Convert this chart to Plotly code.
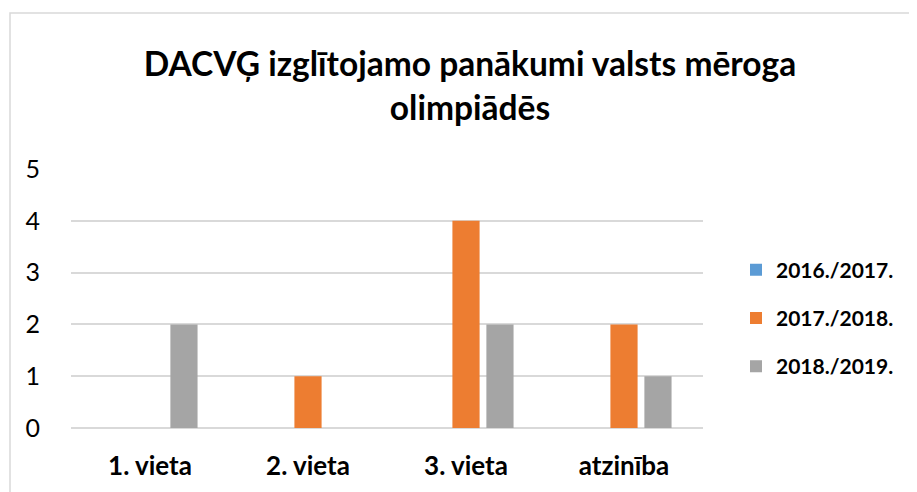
import plotly.graph_objects as go

categories = ["1. vieta", "2. vieta", "3. vieta", "atzinība"]
series_names = ["2016./2017.", "2017./2018.", "2018./2019."]
values_2016 = [0, 0, 0, 0]
values_2017 = [0, 1, 4, 2]
values_2018 = [2, 0, 2, 1]
colors = ["#5B9BD5", "#ED7D31", "#A5A5A5"]
y_ticks = [0, 1, 2, 3, 4, 5]

FONT = "Lato"
OFF = 8  # page body margin
W, H = 917 - OFF, 492 - OFF
# plot area in page pixels: x 71..703, y 169..428
PL, PR, PT, PB = 71, 703, 169, 428
L, R, T, B = PL - OFF, W - (PR - OFF), PT - OFF, H - (PB - OFF)
pw, ph = W - L - R, H - T - B

def px_x(p):
    return (p - OFF - L) / pw

def px_y(p):
    return (H - B - (p - OFF)) / ph

fig = go.Figure()
for name, vals, col in zip(series_names, [values_2016, values_2017, values_2018], colors):
    fig.add_trace(go.Bar(x=categories, y=vals, name="<b>" + name + "</b>",
                         marker=dict(color=col, line=dict(width=0)), legendgroup=name))

fig.update_layout(
    width=W, height=H,
    margin=dict(l=L, r=R, t=T, b=B, autoexpand=False),
    paper_bgcolor="white", plot_bgcolor="white",
    barmode="group", bargap=0.355, bargroupgap=0.2,
    font=dict(family=FONT, color="#000000"),
    title=dict(text="<b>DACVĢ izglītojamo panākumi valsts mēroga<br>olimpiādēs</b>",
               x=(470 - OFF) / W, xanchor="center", xref="container",
               y=1 - (76 - OFF) / H, yanchor="middle", yref="container",
               font=dict(family=FONT, size=33.5, color="#000000")),
    xaxis=dict(showgrid=False, showline=False, zeroline=False, ticks="",
               tickfont=dict(family=FONT, size=26, color="#000000"),
               tickprefix="<b>", ticksuffix="</b>", ticklabelstandoff=20),
    yaxis=dict(range=[0, 5], tickvals=y_ticks, showgrid=True, gridcolor="#D9D9D9", gridwidth=1.5,
               zeroline=True, zerolinecolor="#D9D9D9", zerolinewidth=1.5, showline=False, ticks="",
               tickfont=dict(family=FONT, size=25, color="#000000"), ticklabelstandoff=30),
    legend=dict(x=px_x(736), xanchor="left", y=px_y(318), yanchor="middle",
                font=dict(family=FONT, size=21, color="#000000"),
                traceorder="grouped", tracegroupgap=18, bgcolor="rgba(0,0,0,0)"),
    shapes=[dict(type="rect", xref="paper", yref="paper",
                 x0=px_x(10), x1=px_x(940), y0=px_y(520), y1=px_y(13),
                 line=dict(color="#D9D9D9", width=1.5), fillcolor="rgba(0,0,0,0)", layer="below")],
)

fig.write_html("out.html")
